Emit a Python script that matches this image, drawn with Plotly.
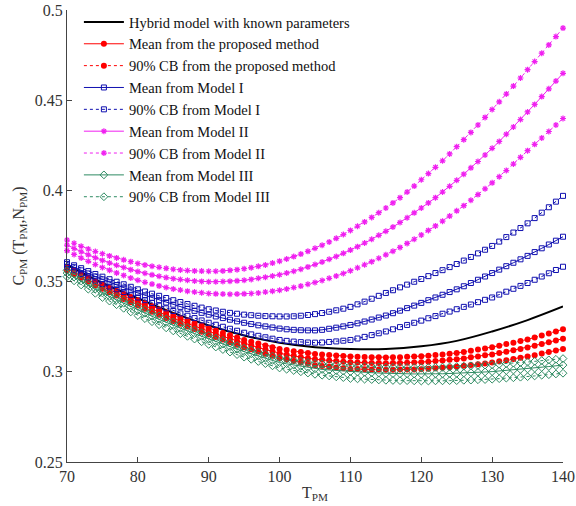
import plotly.graph_objects as go

x_vals = list(range(70, 141))
x_black = list(range(70, 141, 5))

hybrid = [.3590, .3490, .3405, .3325, .3255, .3200, .3160, .3135, .3125, .3125,
          .3140, .3170, .3222, .3285, .3360]

red_upper = [.3580, .3559, .3539, .3519, .3499, .3480, .3463, .3446, .3429, .3412,
             .3395, .3378, .3361, .3344, .3327, .3310, .3296, .3282, .3268, .3254,
             .3240, .3227, .3214, .3201, .3188, .3175, .3165, .3155, .3145, .3135,
             .3125, .3119, .3113, .3108, .3103, .3098, .3095, .3092, .3089, .3086,
             .3083, .3082, .3081, .3080, .3079, .3078, .3079, .3080, .3082, .3083,
             .3085, .3088, .3092, .3095, .3099, .3103, .3109, .3115, .3122, .3128,
             .3135, .3143, .3152, .3160, .3169, .3178, .3189, .3200, .3211, .3222,
             .3234]
red_mean = [.3570, .3549, .3529, .3509, .3489, .3470, .3452, .3434, .3416, .3398,
            .3380, .3363, .3346, .3329, .3312, .3295, .3280, .3266, .3251, .3237,
            .3222, .3209, .3195, .3182, .3168, .3155, .3144, .3133, .3122, .3111,
            .3100, .3093, .3087, .3080, .3074, .3068, .3065, .3061, .3058, .3055,
            .3052, .3051, .3049, .3048, .3047, .3046, .3047, .3048, .3049, .3051,
            .3052, .3055, .3058, .3061, .3065, .3068, .3073, .3079, .3084, .3090,
            .3095, .3103, .3110, .3118, .3125, .3133, .3143, .3153, .3163, .3172,
            .3182]
red_lower = [.3560, .3539, .3519, .3498, .3478, .3458, .3439, .3421, .3402, .3384,
             .3365, .3348, .3331, .3314, .3297, .3280, .3265, .3250, .3235, .3220,
             .3205, .3191, .3177, .3163, .3149, .3135, .3123, .3111, .3099, .3087,
             .3075, .3067, .3059, .3051, .3043, .3035, .3031, .3027, .3023, .3019,
             .3015, .3014, .3013, .3012, .3011, .3010, .3010, .3011, .3012, .3012,
             .3013, .3016, .3019, .3021, .3024, .3027, .3032, .3036, .3041, .3045,
             .3050, .3057, .3063, .3070, .3076, .3083, .3091, .3100, .3108, .3117,
             .3125]

m1_upper = [.3605, .3588, .3572, .3556, .3540, .3525, .3511, .3497, .3483, .3469,
            .3455, .3443, .3431, .3419, .3407, .3395, .3385, .3374, .3364, .3354,
            .3345, .3338, .3331, .3325, .3320, .3315, .3312, .3309, .3307, .3306,
            .3305, .3305, .3306, .3309, .3313, .3318, .3324, .3331, .3339, .3348,
            .3358, .3372, .3387, .3403, .3419, .3435, .3450, .3466, .3481, .3497,
            .3512, .3528, .3545, .3561, .3578, .3595, .3614, .3634, .3654, .3674,
            .3695, .3719, .3744, .3769, .3794, .3820, .3849, .3879, .3909, .3940,
            .3972]
m1_mean = [.3595, .3577, .3560, .3543, .3526, .3510, .3494, .3479, .3464, .3449,
           .3435, .3422, .3408, .3395, .3382, .3370, .3358, .3347, .3336, .3325,
           .3315, .3305, .3296, .3287, .3278, .3270, .3263, .3256, .3250, .3244,
           .3238, .3234, .3231, .3229, .3228, .3228, .3231, .3237, .3243, .3250,
           .3258, .3267, .3277, .3288, .3299, .3310, .3323, .3337, .3351, .3365,
           .3380, .3395, .3410, .3425, .3440, .3455, .3472, .3490, .3508, .3526,
           .3545, .3564, .3583, .3602, .3621, .3640, .3661, .3682, .3703, .3724,
           .3746]
m1_lower = [.3580, .3560, .3540, .3521, .3503, .3485, .3470, .3455, .3440, .3425,
            .3410, .3395, .3380, .3365, .3350, .3335, .3322, .3309, .3296, .3283,
            .3270, .3259, .3248, .3237, .3226, .3215, .3206, .3198, .3190, .3182,
            .3175, .3170, .3166, .3163, .3161, .3160, .3161, .3164, .3167, .3171,
            .3175, .3183, .3192, .3202, .3212, .3222, .3234, .3246, .3258, .3270,
            .3282, .3295, .3307, .3320, .3332, .3345, .3358, .3371, .3384, .3397,
            .3410, .3426, .3442, .3458, .3474, .3490, .3508, .3526, .3544, .3562,
            .3580]

m2_upper = [.3728, .3710, .3693, .3678, .3664, .3652, .3640, .3629, .3618, .3608,
            .3598, .3590, .3583, .3577, .3571, .3566, .3562, .3559, .3557, .3556,
            .3555, .3555, .3557, .3560, .3564, .3569, .3575, .3582, .3590, .3600,
            .3611, .3623, .3636, .3650, .3665, .3682, .3699, .3717, .3737, .3758,
            .3781, .3804, .3828, .3853, .3879, .3905, .3933, .3962, .3993, .4026,
            .4061, .4095, .4130, .4166, .4204, .4244, .4283, .4323, .4364, .4406,
            .4450, .4492, .4535, .4579, .4624, .4670, .4715, .4761, .4807, .4853,
            .4900]
m2_mean = [.3700, .3681, .3663, .3646, .3630, .3615, .3601, .3588, .3576, .3564,
           .3553, .3544, .3535, .3527, .3520, .3514, .3509, .3505, .3501, .3499,
           .3497, .3497, .3498, .3500, .3502, .3505, .3510, .3516, .3522, .3529,
           .3536, .3545, .3555, .3566, .3579, .3592, .3606, .3621, .3637, .3654,
           .3672, .3691, .3711, .3732, .3754, .3776, .3800, .3825, .3851, .3878,
           .3905, .3933, .3962, .3993, .4025, .4058, .4092, .4127, .4162, .4198,
           .4235, .4273, .4313, .4353, .4394, .4436, .4478, .4521, .4564, .4607,
           .4650]
m2_lower = [.3669, .3648, .3628, .3610, .3592, .3576, .3561, .3546, .3532, .3518,
            .3505, .3494, .3484, .3474, .3465, .3457, .3451, .3445, .3440, .3436,
            .3432, .3430, .3429, .3428, .3429, .3430, .3432, .3435, .3440, .3445,
            .3450, .3457, .3465, .3473, .3483, .3493, .3504, .3516, .3529, .3543,
            .3558, .3574, .3591, .3608, .3627, .3646, .3666, .3687, .3709, .3732,
            .3756, .3781, .3806, .3832, .3860, .3889, .3918, .3948, .3979, .4011,
            .4044, .4078, .4112, .4148, .4185, .4222, .4257, .4292, .4328, .4364,
            .4400]

m3_upper = [.3560, .3538, .3516, .3494, .3472, .3450, .3432, .3414, .3396, .3378,
            .3360, .3343, .3326, .3309, .3292, .3275, .3260, .3245, .3230, .3215,
            .3200, .3186, .3172, .3158, .3144, .3130, .3119, .3108, .3097, .3086,
            .3075, .3069, .3063, .3057, .3051, .3045, .3042, .3040, .3037, .3035,
            .3032, .3031, .3029, .3028, .3026, .3025, .3024, .3024, .3023, .3023,
            .3022, .3023, .3024, .3025, .3026, .3028, .3030, .3032, .3034, .3036,
            .3038, .3041, .3044, .3047, .3050, .3053, .3057, .3061, .3065, .3068,
            .3072]
m3_mean = [.3545, .3523, .3501, .3479, .3457, .3435, .3416, .3397, .3378, .3359,
           .3340, .3323, .3306, .3289, .3272, .3255, .3240, .3225, .3210, .3195,
           .3180, .3166, .3152, .3138, .3124, .3110, .3098, .3086, .3074, .3062,
           .3050, .3043, .3036, .3029, .3022, .3015, .3012, .3009, .3006, .3003,
           .3000, .2998, .2996, .2994, .2992, .2990, .2989, .2988, .2988, .2987,
           .2986, .2987, .2988, .2988, .2989, .2990, .2992, .2994, .2996, .2998,
           .3000, .3003, .3006, .3009, .3012, .3015, .3019, .3023, .3028, .3032,
           .3036]
m3_lower = [.3525, .3502, .3479, .3456, .3433, .3410, .3390, .3370, .3350, .3330,
            .3310, .3293, .3276, .3259, .3242, .3225, .3210, .3195, .3180, .3165,
            .3150, .3136, .3122, .3108, .3094, .3080, .3068, .3056, .3044, .3032,
            .3020, .3013, .3006, .2999, .2992, .2985, .2980, .2976, .2971, .2967,
            .2962, .2960, .2958, .2956, .2954, .2952, .2951, .2950, .2950, .2949,
            .2948, .2948, .2949, .2949, .2950, .2950, .2952, .2953, .2955, .2956,
            .2958, .2961, .2964, .2966, .2969, .2972, .2976, .2980, .2983, .2987,
            .2991]

y_tickvals = [0.25, 0.3, 0.35, 0.4, 0.45, 0.5]
y_ticktext = ["0.25", "0.3", "0.35", "0.4", "0.45", "0.5"]
x_tickvals = [70, 80, 90, 100, 110, 120, 130, 140]

RED = "#FF0000"
BLUE = "#1010B0"
MAG = "#F020F0"
GRN = "#2E8B62"

fig = go.Figure()

fig.add_trace(go.Scatter(x=x_black, y=hybrid, mode="lines", name="Hybrid model with known parameters",
                         line=dict(color="black", width=2, shape="spline"), legendgroup="g0"))

def add_set(mean, upper, lower, color, symbol, msize, mname, cbname, grp, mline=None):
    mk = dict(symbol=symbol, size=msize, color=color)
    if mline is not None:
        mk["line"] = dict(color=color, width=mline)
    fig.add_trace(go.Scatter(x=x_vals, y=mean, mode="lines+markers", name=mname,
                             line=dict(color=color, width=1), marker=mk,
                             legendgroup=grp + "m", cliponaxis=False))
    fig.add_trace(go.Scatter(x=x_vals, y=upper, mode="lines+markers", name=cbname,
                             line=dict(color=color, width=1, dash="dot"), marker=mk,
                             legendgroup=grp + "c", cliponaxis=False))
    fig.add_trace(go.Scatter(x=x_vals, y=lower, mode="lines+markers", name=cbname,
                             line=dict(color=color, width=1, dash="dot"), marker=mk,
                             legendgroup=grp + "c", showlegend=False, cliponaxis=False))

add_set(red_mean, red_upper, red_lower, RED, "circle", 6,
        "Mean from the proposed method", "90% CB from the proposed method", "r")
add_set(m1_mean, m1_upper, m1_lower, BLUE, "square-open", 5,
        "Mean from Model I", "90% CB from Model I", "b", mline=1)
add_set(m2_mean, m2_upper, m2_lower, MAG, "asterisk-open", 5,
        "Mean from Model II", "90% CB from Model II", "m", mline=1.2)
add_set(m3_mean, m3_upper, m3_lower, GRN, "diamond-open", 6,
        "Mean from Model III", "90% CB from Model III", "g", mline=1)

serif = "Liberation Serif, Times New Roman, serif"
axis_font = dict(family=serif, size=16, color="#333333")

fig.update_layout(
    width=576, height=506,
    margin=dict(l=67, r=13, t=0, b=44),
    paper_bgcolor="white", plot_bgcolor="white",
    font=dict(family=serif, size=15, color="#222222"),
    showlegend=True,
    legend=dict(x=0.024, y=0.987, xanchor="left", yanchor="top", bgcolor="rgba(0,0,0,0)",
                traceorder="grouped", tracegroupgap=0, itemwidth=40,
                font=dict(family=serif, size=14.5, color="#111111")),
    xaxis=dict(range=[70, 140], tickvals=x_tickvals, ticks="inside", ticklen=5,
               showline=True, linecolor="#444444", linewidth=1, showgrid=False, zeroline=False,
               tickfont=axis_font, tickcolor="#444444", automargin=False,
               title=dict(text="T<sub>PM</sub>", font=axis_font, standoff=2)),
    yaxis=dict(range=[0.25, 0.5], domain=[0, 452 / 462], tickvals=y_tickvals, ticktext=y_ticktext,
               ticks="inside", ticklen=5,
               showline=True, linecolor="#444444", linewidth=1, showgrid=False, zeroline=False,
               tickfont=axis_font, tickcolor="#444444", automargin=False,
               title=dict(text="C<sub>PM</sub> (T<sub>PM</sub>,N<sub>PM</sub>)", font=axis_font, standoff=6)),
)

fig.write_html("out.html")
